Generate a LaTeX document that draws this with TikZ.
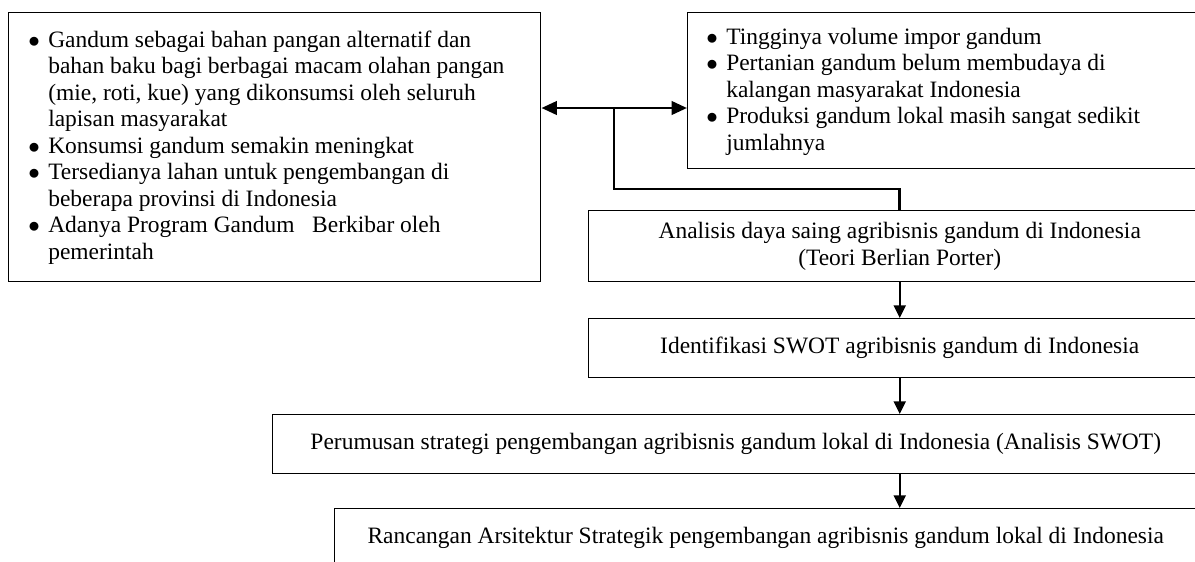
\documentclass[tikz,border=0pt]{standalone}
\usepackage{fontspec}
\setmainfont{Liberation Serif}
\usetikzlibrary{arrows.meta,calc}
\newdimen\pxu \pxu=0.75pt
\newcommand{\itm}{\makebox[20\pxu][l]{$\bullet$}}
\newcommand{\ind}{\hspace*{20\pxu}}
\begin{document}
\begin{tikzpicture}[x=0.75pt,y=-0.75pt,
  box/.style={draw,line width=1.1pt,inner sep=0pt,anchor=north west,align=center,txt},
  conn/.style={line width=2.1pt},
  dbl/.style={line width=2.1pt,{Triangle[length=11.5pt,width=10pt]}-{Triangle[length=11.5pt,width=10pt]}},
  down/.style={line width=1.5pt,-{Triangle[length=9.5pt,width=9pt]}},
  txt/.style={font=\fontsize{17.6}{19.9}\selectfont},
  list/.style={anchor=base west,inner sep=0pt,txt}
]
\useasboundingbox (0,0) rectangle (1195,561);
\clip (0,0) rectangle (1195,561);
% boxes
\node[box, minimum width=532*0.75pt, minimum height=269*0.75pt] (L) at (8,12) {};
\node[box, minimum width=528*0.75pt, minimum height=156*0.75pt] (R) at (687,12) {};
\node[box, minimum width=622*0.75pt, minimum height=71*0.75pt] (ana) at (588,210)
  {Analisis daya saing agribisnis gandum di Indonesia\\(Teori Berlian Porter)};
\node[box, minimum width=622*0.75pt, minimum height=59*0.75pt] (ident) at (588,318)
  {Identifikasi SWOT agribisnis gandum di Indonesia};
\node[box, minimum width=926*0.75pt, minimum height=59*0.75pt] (perum) at (272,414)
  {Perumusan strategi pengembangan agribisnis gandum lokal di Indonesia (Analisis SWOT)};
\node[box, minimum width=862*0.75pt, minimum height=59*0.75pt] (ranc) at (334,508)
  {Rancangan Arsitektur Strategik pengembangan agribisnis gandum lokal di Indonesia};
% list texts
\node[list] (Lt) at (28,47) {\parbox[t]{520\pxu}{%
\itm Gandum sebagai bahan pangan alternatif dan\\
\ind bahan baku bagi berbagai macam olahan pangan\\
\ind (mie, roti, kue) yang dikonsumsi oleh seluruh\\
\ind lapisan masyarakat\\
\itm Konsumsi gandum semakin meningkat\\
\itm Tersedianya lahan untuk pengembangan di\\
\ind beberapa provinsi di Indonesia\\
\itm Adanya Program Gandum\ \ \ Berkibar oleh\\
\ind pemerintah}};
\node[list] (Rt) at (706,44) {\parbox[t]{480\pxu}{%
\itm Tingginya volume impor gandum\\
\itm Pertanian gandum belum membudaya di\\
\ind kalangan masyarakat Indonesia\\
\itm Produksi gandum lokal masih sangat sedikit\\
\ind jumlahnya}};
% connectors
\coordinate (J) at (614,108);
\coordinate (B) at (614,189);
\draw[dbl] (J -| L.east) -- (J -| R.west);
\draw[conn] (J) -- (B) -| (ana.north);
\draw[down] (ana.south) -- (ident.north);
\draw[down] (ident.south) -- (ident.south |- perum.north);
\draw[down] (ident.south |- perum.south) -- (ident.south |- ranc.north);
\end{tikzpicture}
\end{document}
